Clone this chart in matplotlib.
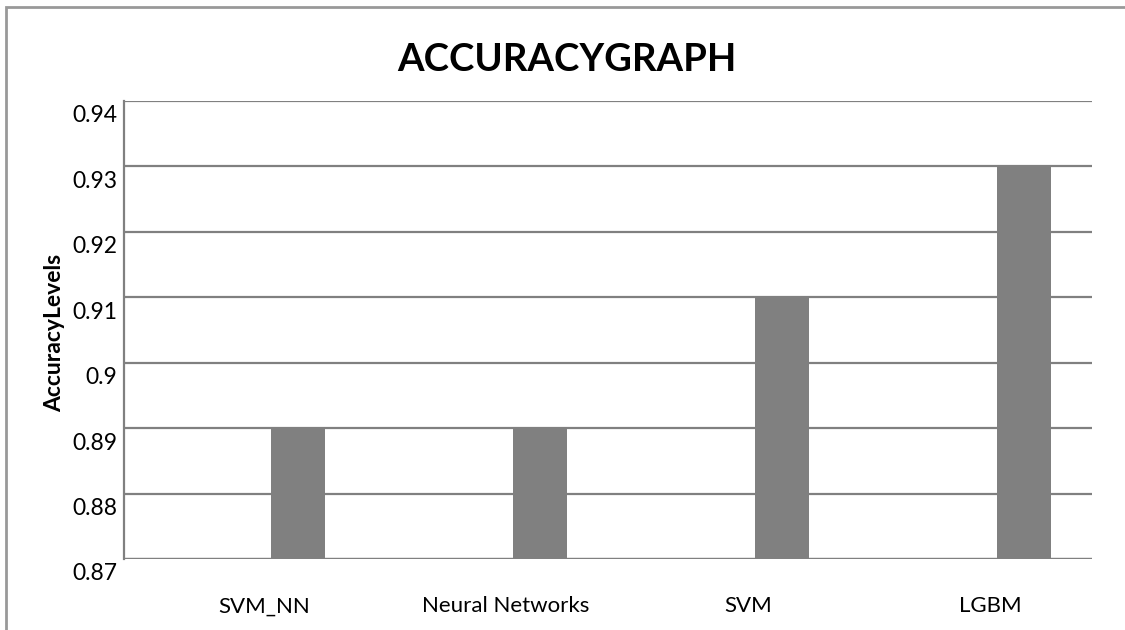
import matplotlib
matplotlib.use("Agg")
from matplotlib import pyplot as plt
from matplotlib.patches import Rectangle
import matplotlib.transforms as mtransforms
import numpy as np

plt.rcParams['font.family'] = ['Lato', 'DejaVu Sans']

# данные
models = ["SVM_NN", "Neural Networks", "SVM", "LGBM"]
accuracy = [0.89, 0.89, 0.91, 0.93]
y_ticks = [0.87, 0.88, 0.89, 0.9, 0.91, 0.92, 0.93, 0.94]
y_labels = ["0.87", "0.88", "0.89", "0.9", "0.91", "0.92", "0.93", "0.94"]

grey = "#808080"

fig = plt.figure(figsize=(11.25, 6.3), dpi=100)
ax = fig.add_axes([124/1125, 1 - 559/630, 968/1125, 458/630])

x = np.arange(len(models))
ax.bar(x + 0.219, np.array(accuracy) - 0.87, bottom=0.87, width=0.223,
       color=grey, zorder=3)

ax.set_xlim(-0.5, 3.5)
ax.set_ylim(0.87, 0.94)
ax.set_yticks(y_ticks)
ax.set_yticklabels(y_labels, fontsize=16.5)
ax.set_xticks(x + 0.078)
ax.set_xticklabels(models, fontsize=16)
ax.tick_params(axis='both', length=0)
ax.tick_params(axis='y', pad=5)
ax.tick_params(axis='x', pad=27)
# подписи оси Y чуть ниже линий сетки
offset = mtransforms.ScaledTranslation(0, -13/100, fig.dpi_scale_trans)
for lbl in ax.get_yticklabels():
    lbl.set_transform(lbl.get_transform() + offset)

ax.grid(axis='y', color=grey, linewidth=1.6, zorder=1)
for s in ['top', 'right', 'bottom']:
    ax.spines[s].set_visible(False)
ax.spines['left'].set_color(grey)
ax.spines['left'].set_linewidth(1.6)
ax.axhline(0.87, color=grey, linewidth=1.6, zorder=4)

fig.text(567/1125, 1 - 60/630, "ACCURACYGRAPH", ha='center', va='center',
         fontsize=27.5, fontweight='bold')
fig.text(55/1125, 1 - 333/630, "AccuracyLevels", ha='center', va='center',
         rotation=90, fontsize=16.5, fontweight='bold')

# рамка
fig.add_artist(Rectangle((6/1125, -0.1), 1.2, 1 - 7/630 + 0.1,
                         transform=fig.transFigure, fill=False,
                         edgecolor="#999999", linewidth=2))

fig.savefig("out.png", dpi=100)
